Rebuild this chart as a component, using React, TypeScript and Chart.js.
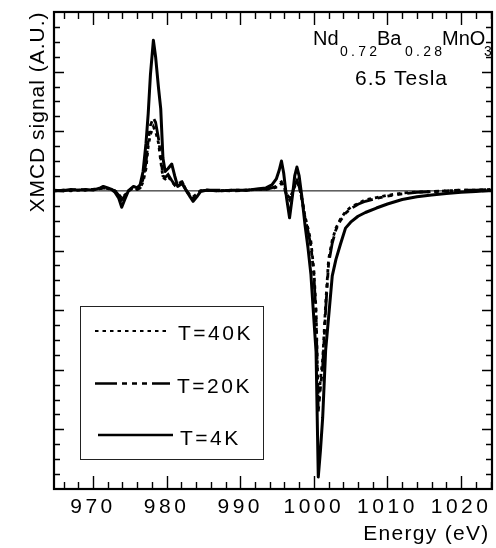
import React, { useEffect, useRef } from 'react';
import { Chart, registerables } from 'chart.js';

Chart.register(...registerables);

// ---------- data ----------
const energy = [
  964.7, 966, 967, 968, 969, 970, 971, 971.4, 972, 972.5,
  973, 973.5, 973.9, 974.3, 974.8, 975.5, 976, 976.4, 976.8, 977.2,
  977.5, 977.8, 978.2, 978.5, 978.9, 979.2, 979.5, 979.8, 980.2, 980.7,
  981.1, 981.5, 982.1, 982.7, 983.2, 983.6, 984.1, 984.6, 985.5, 987,
  989, 991, 992.5, 993.5, 994.3, 994.9, 995.3, 995.6, 995.9, 996.3,
  996.7, 997.1, 997.4, 997.7, 998, 998.4, 998.8, 999.2, 999.6, 1000,
  1000.3, 1000.6, 1000.9, 1001.2, 1001.6, 1002, 1002.5, 1003, 1003.6, 1004.3,
  1005, 1006, 1007, 1008.5, 1010, 1012, 1014, 1016, 1018, 1020,
  1022, 1024.2,
];

const t4K = [
  0.05, 0.0, 0.1, 0.05, 0.1, 0.05, 0.2, 0.3, 0.2, 0.1,
  -0.1, -0.5, -1.1, -0.6, 0.0, 0.3, 0.2, 0.4, 1.3, 3.2,
  5.2, 7.8, 10.1, 9.0, 6.9, 5.5, 2.2, 1.3, 1.5, 1.8,
  1.0, 0.3, 0.5, 0.0, -0.4, -0.7, -0.4, -0.05, 0.05, 0.0,
  0.05, 0.05, 0.15, 0.2, 0.4, 0.8, 1.4, 2.0, 1.2, -0.5,
  -1.8, -0.3, 1.0, 1.6, 1.0, -0.5, -2.3, -3.8, -5.6, -8.6,
  -10.8, -19.2, -17.4, -15.2, -10.7, -8.5, -5.7, -4.6, -3.6, -2.5,
  -2.1, -1.7, -1.45, -1.15, -0.88, -0.58, -0.4, -0.28, -0.18, -0.1,
  -0.05, 0.05,
];

const t20K = [
  0.0, 0.05, 0.05, 0.1, 0.05, 0.1, 0.15, 0.2, 0.15, 0.1,
  0.0, -0.3, -0.6, -0.35, 0.0, 0.25, 0.1, 0.2, 0.8, 1.9,
  3.4, 4.4, 4.9, 4.6, 3.5, 2.3, 1.0, 0.9, 1.1, 0.7,
  0.4, 0.6, 0.6, 0.0, -0.35, -0.5, -0.2, 0.0, 0.05, 0.05,
  0.0, 0.05, 0.1, 0.1, 0.2, 0.3, 0.5, 0.6, 0.3, -0.3,
  -0.6, -0.1, 0.4, 0.7, 0.3, -0.6, -1.8, -2.7, -3.7, -5.6,
  -8.4, -14.8, -13.2, -11.8, -8.0, -4.9, -3.5, -2.6, -2.0, -1.5,
  -1.2, -0.9, -0.7, -0.5, -0.35, -0.2, -0.1, -0.05, 0.0, 0.05,
  0.05, 0.1,
];

const t40K = [
  0.0, 0.05, 0.0, 0.05, 0.05, 0.1, 0.15, 0.2, 0.15, 0.1,
  0.0, -0.25, -0.5, -0.3, 0.0, 0.2, 0.1, 0.2, 0.6, 1.5,
  3.0, 3.8, 4.3, 4.0, 3.2, 2.0, 0.9, 0.8, 1.0, 0.6,
  0.4, 0.5, 0.6, 0.0, -0.3, -0.4, -0.2, 0.0, 0.05, 0.0,
  0.05, 0.05, 0.1, 0.1, 0.15, 0.25, 0.4, 0.5, 0.3, -0.2,
  -0.5, -0.1, 0.3, 0.6, 0.3, -0.6, -1.7, -2.5, -3.4, -5.3,
  -8.0, -14.2, -12.6, -11.3, -7.6, -4.6, -3.3, -2.5, -1.9, -1.4,
  -1.1, -0.85, -0.6, -0.45, -0.3, -0.15, -0.08, -0.05, 0.0, 0.05,
  0.05, 0.1,
];

const seriesLabels = ['T=40K', 'T=20K', 'T=4K'];
const xTickLabels = [970, 980, 990, 1000, 1010, 1020];
const xRange = [964.7, 1024.2];
const yRange = [-20, 12];
const xMinorStep = 2;
const yMinorStep = 1;
const yMajorEvery = 4;

const FONT = '"Liberation Sans", Arial, Helvetica, sans-serif';
const DASH40 = [3.5, 4];
const DASH20 = [22, 5, 5, 5, 5, 5, 5, 5];

const pts = (ys: number[]) => energy.map((x, i) => ({ x, y: ys[i] }));

const decor = {
  id: 'decor',
  beforeDraw(chart: any) {
    (chart.ctx as any).letterSpacing = '3.5px';
  },
  beforeDatasetsDraw(chart: any) {
    (chart.ctx as any).letterSpacing = '0px';
  },
  afterDraw(chart: any) {
    const ctx = chart.ctx as any;
    const a = chart.chartArea;
    const xs = chart.scales.x;
    const ys = chart.scales.y;
    ctx.save();
    ctx.fillStyle = '#000';
    ctx.strokeStyle = '#000';

    const text = (s: string, x: number, y: number, size: number, spacing: number, align = 'left') => {
      ctx.font = `${size}px ${FONT}`;
      ctx.letterSpacing = `${spacing}px`;
      ctx.textAlign = align;
      ctx.textBaseline = 'alphabetic';
      ctx.fillText(s, x, y);
    };

    // formula and field annotation
    text('Nd', 313, 45, 20, 0);
    text('0.72', 340, 56, 14, 3.3);
    text('Ba', 377, 45, 20, 0);
    text('0.28', 405, 56, 14, 3.3);
    text('MnO', 442, 45, 20, 0);
    text('3', 484, 56, 14, 0);
    text('6.5 Tesla', 355, 85, 21, 1);

    // axis titles
    text('Energy (eV)', 489.5, 540, 21, 1.3, 'right');
    ctx.save();
    ctx.translate(44, 112);
    ctx.rotate(-Math.PI / 2);
    text('XMCD signal (A.U.)', 0, 0, 21, 1, 'center');
    ctx.restore();

    // legend box
    ctx.letterSpacing = '0px';
    ctx.lineWidth = 1;
    ctx.strokeStyle = '#222';
    ctx.strokeRect(80.5, 306.5, 183, 153);
    ctx.strokeStyle = '#000';
    const entries = [
      { label: seriesLabels[0], dash: DASH40, y: 331, x0: 95, x1: 168, tx: 178, ty: 340, w: 2.2 },
      { label: seriesLabels[1], dash: DASH20, y: 383.5, x0: 95, x1: 170, tx: 177, ty: 392.5, w: 2.4 },
      { label: seriesLabels[2], dash: [], y: 435, x0: 98, x1: 173, tx: 180, ty: 445, w: 2.6 },
    ];
    for (const e of entries) {
      ctx.save();
      ctx.setLineDash(e.dash);
      ctx.lineWidth = e.w;
      ctx.beginPath();
      ctx.moveTo(e.x0, e.y);
      ctx.lineTo(e.x1, e.y);
      ctx.stroke();
      ctx.restore();
      text(e.label, e.tx, e.ty, 21, 2.5);
    }

    // frame
    ctx.setLineDash([]);
    ctx.lineWidth = 2.2;
    ctx.strokeRect(a.left, a.top, a.right - a.left, a.bottom - a.top);

    // ticks (inward, all four sides)
    ctx.lineWidth = 1.4;
    ctx.beginPath();
    for (let v = Math.ceil(xRange[0] / xMinorStep) * xMinorStep; v <= xRange[1]; v += xMinorStep) {
      const px = Math.round(xs.getPixelForValue(v)) + 0.5;
      const len = v % 10 === 0 ? 13 : 7;
      ctx.moveTo(px, a.bottom);
      ctx.lineTo(px, a.bottom - len);
      ctx.moveTo(px, a.top);
      ctx.lineTo(px, a.top + len);
    }
    for (let v = yRange[0] + yMinorStep; v < yRange[1]; v += yMinorStep) {
      const py = Math.round(ys.getPixelForValue(v)) + 0.5;
      const len = v % yMajorEvery === 0 ? 10 : 6;
      ctx.moveTo(a.left, py);
      ctx.lineTo(a.left + len, py);
      ctx.moveTo(a.right, py);
      ctx.lineTo(a.right - len, py);
    }
    ctx.stroke();
    ctx.restore();
  },
};

export default function App() {
  const ref = useRef<HTMLCanvasElement>(null);
  useEffect(() => {
    const chart = new Chart(ref.current as HTMLCanvasElement, {
      type: 'line',
      data: {
        datasets: [
          {
            label: 'zero',
            data: [{ x: xRange[0], y: 0 }, { x: xRange[1], y: 0 }],
            borderColor: '#000',
            borderWidth: 1,
            pointRadius: 0,
            order: 10,
          },
          {
            label: seriesLabels[0],
            data: pts(t40K),
            borderColor: '#000',
            borderWidth: 2.8,
            borderDash: DASH40,
            pointRadius: 0,
            order: 3,
          },
          {
            label: seriesLabels[1],
            data: pts(t20K),
            borderColor: '#000',
            borderWidth: 2.8,
            borderDash: DASH20,
            pointRadius: 0,
            order: 2,
          },
          {
            label: seriesLabels[2],
            data: pts(t4K),
            borderColor: '#000',
            borderWidth: 3,
            pointRadius: 0,
            borderJoinStyle: 'round',
            order: 1,
          },
        ],
      } as any,
      options: {
        animation: false,
        responsive: false,
        devicePixelRatio: 1,
        layout: { padding: { left: 0, right: 4, top: 12, bottom: 0 } },
        plugins: { legend: { display: false }, tooltip: { enabled: false } },
        elements: { line: { tension: 0 } },
        scales: {
          x: {
            type: 'linear',
            min: xRange[0],
            max: xRange[1],
            afterBuildTicks: (s: any) => {
              s.ticks = xTickLabels.map((v) => ({ value: v }));
            },
            afterFit: (s: any) => {
              s.height = 59;
            },
            grid: { display: false, drawTicks: false },
            border: { display: false },
            ticks: {
              color: '#000',
              padding: 6,
              maxRotation: 0,
              autoSkip: false,
              font: { family: FONT, size: 21 },
              callback: (v: any) => String(v),
            },
          },
          y: {
            type: 'linear',
            min: yRange[0],
            max: yRange[1],
            afterFit: (s: any) => {
              s.width = 54;
            },
            grid: { display: false, drawTicks: false },
            border: { display: false },
            ticks: { display: false },
          },
        },
      } as any,
      plugins: [decor],
    });
    return () => chart.destroy();
  }, []);
  return (
    <div style={{ position: 'absolute', left: 0, top: 0, width: 496, height: 548, background: '#fff' }}>
      <canvas ref={ref} width={496} height={548} style={{ display: 'block', width: 496, height: 548 }} />
    </div>
  );
}
